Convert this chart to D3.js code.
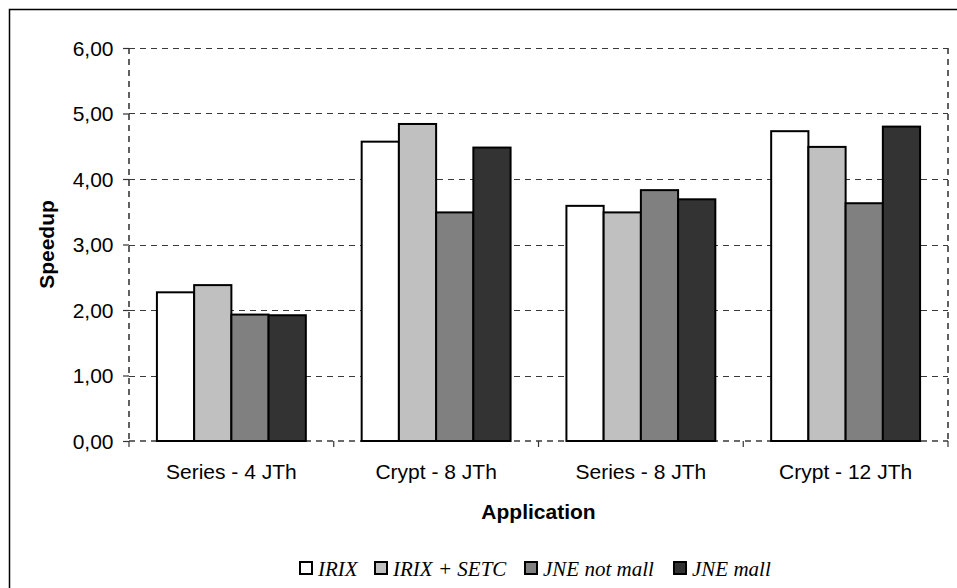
<!DOCTYPE html>
<html>
<head>
<meta charset="utf-8">
<script src="https://cdn.jsdelivr.net/npm/d3@7"></script>
<style>
  html, body { margin: 0; padding: 0; background: #fff; }
  svg { display: block; }
</style>
</head>
<body>
<svg id="chart" width="957" height="588"></svg>
<script>
// Speedup per application and configuration
const categories = ["Series - 4 JTh", "Crypt - 8 JTh", "Series - 8 JTh", "Crypt - 12 JTh"];
const seriesNames = ["IRIX", "IRIX + SETC", "JNE not mall", "JNE mall"];
const irix      = [2.27, 4.57, 3.59, 4.73];
const irixSetc  = [2.38, 4.84, 3.49, 4.49];
const jneNoMall = [1.93, 3.49, 3.83, 3.63];
const jneMall   = [1.92, 4.48, 3.69, 4.80];
const yTicks = [0, 1, 2, 3, 4, 5, 6];
const seriesColors = ["#ffffff", "#c0c0c0", "#808080", "#333333"];

const seriesValues = [irix, irixSetc, jneNoMall, jneMall];

const svg = d3.select("#chart");
const W = 957, H = 588;
const plot = { left: 129, right: 948, top: 48, bottom: 441 };
const sans = "Liberation Sans, Arial, sans-serif";
const serif = "Liberation Serif, Times New Roman, serif";
const fs = 21;

// outer chart frame (runs off the right and bottom edges)
svg.append("rect")
  .attr("x", 9.5).attr("y", 9.5)
  .attr("width", W + 20).attr("height", H + 20)
  .attr("fill", "#fff").attr("stroke", "#000").attr("stroke-width", 1.5);

const x0 = d3.scaleBand().domain(categories).range([plot.left, plot.right]).paddingInner(0).paddingOuter(0);
// four bars plus a 150% gap per category
const gapRatio = 1.5;
const barW = x0.bandwidth() / (seriesNames.length + gapRatio);
const x1 = d3.scaleBand().domain(seriesNames)
  .range([barW * gapRatio / 2, barW * gapRatio / 2 + barW * seriesNames.length]).padding(0);
const y = d3.scaleLinear().domain([0, 6]).range([plot.bottom, plot.top]);

const fmt = v => d3.format(".2f")(v).replace(".", ",");

// gridlines
svg.append("g").selectAll("line").data(yTicks.filter(t => t > 0)).join("line")
  .attr("x1", plot.left).attr("x2", plot.right)
  .attr("y1", d => Math.round(y(d)) + 0.5).attr("y2", d => Math.round(y(d)) + 0.5)
  .attr("stroke", "#3a3a3a").attr("stroke-width", 1.2).attr("stroke-dasharray", "6,5");

// dashed plot-area border
const border = svg.append("g").attr("stroke", "#3a3a3a").attr("stroke-width", 1.6).attr("stroke-dasharray", "6,5");
border.append("line").attr("x1", plot.left).attr("x2", plot.left).attr("y1", plot.top).attr("y2", plot.bottom);
border.append("line").attr("x1", plot.right).attr("x2", plot.right).attr("y1", plot.top).attr("y2", plot.bottom);
border.append("line").attr("x1", plot.left).attr("x2", plot.right).attr("y1", plot.bottom).attr("y2", plot.bottom);

// bars
const groups = svg.append("g").selectAll("g").data(categories).join("g")
  .attr("transform", d => `translate(${x0(d)},0)`);
groups.selectAll("rect")
  .data((c, ci) => seriesNames.map((s, si) => ({ s, si, v: seriesValues[si][ci] })))
  .join("rect")
  .attr("x", d => x1(d.s))
  .attr("y", d => y(d.v))
  .attr("width", x1.bandwidth())
  .attr("height", d => y(0) - y(d.v))
  .attr("fill", d => seriesColors[d.si])
  .attr("stroke", "#000").attr("stroke-width", 2);

// y axis
const yAxis = d3.axisLeft(y).tickValues(yTicks).tickFormat(fmt).tickSize(6).tickPadding(9);
const gy = svg.append("g").attr("transform", `translate(${plot.left},0)`).call(yAxis);
gy.select(".domain").remove();
gy.selectAll(".tick line").attr("stroke", "#333").attr("stroke-width", 1.2);
gy.selectAll(".tick text").attr("font-family", sans)
  .attr("font-size", fs).attr("fill", "#000").attr("x", -15.5).attr("dy", "0.34em");

// x axis ticks at category boundaries
const bounds = categories.map(c => x0(c)).concat([plot.right]);
svg.append("g").selectAll("line").data(bounds).join("line")
  .attr("x1", d => d).attr("x2", d => d)
  .attr("y1", plot.bottom).attr("y2", plot.bottom + 6)
  .attr("stroke", "#333").attr("stroke-width", 1.2);
const xAxis = d3.axisBottom(x0).tickSize(0).tickPadding(0);
const gx = svg.append("g").attr("transform", `translate(0,${plot.bottom})`).call(xAxis);
gx.select(".domain").remove();
gx.selectAll(".tick text").attr("font-family", sans)
  .attr("font-size", fs).attr("fill", "#000").attr("dy", null).attr("y", 38);

// axis titles
svg.append("text").attr("x", (plot.left + plot.right) / 2).attr("y", 519)
  .attr("text-anchor", "middle").attr("font-family", sans)
  .attr("font-weight", "bold").attr("font-size", fs).text("Application");
svg.append("text").attr("transform", `translate(54,${(plot.top + plot.bottom) / 2}) rotate(-90)`)
  .attr("text-anchor", "middle").attr("font-family", sans)
  .attr("font-weight", "bold").attr("font-size", fs).text("Speedup");

// legend
const legendX = [299, 374, 524, 673];
const legend = svg.append("g");
const items = legend.selectAll("g").data(seriesNames).join("g")
  .attr("transform", (d, i) => `translate(${legendX[i]},562)`);
items.append("rect").attr("x", 1).attr("y", 0).attr("width", 12).attr("height", 12)
  .attr("fill", (d, i) => seriesColors[i]).attr("stroke", "#000").attr("stroke-width", 2);
items.append("text").attr("x", 19).attr("y", 14)
  .attr("font-family", serif).attr("font-style", "italic")
  .attr("font-size", 21).text(d => d);
</script>
</body>
</html>
